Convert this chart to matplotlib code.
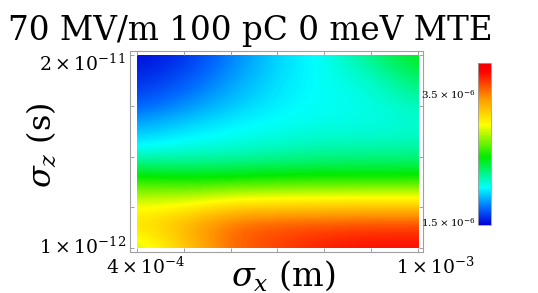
import numpy as np
import matplotlib
matplotlib.use("Agg")
import matplotlib.pyplot as plt
from matplotlib.colors import LinearSegmentedColormap
from matplotlib.patches import Rectangle
from matplotlib.transforms import ScaledTranslation

plt.rcParams['font.family'] = 'DejaVu Serif'
plt.rcParams['mathtext.fontset'] = 'dejavuserif'

# grid
sigma_x = np.array([4, 5, 6, 7, 8, 9, 10]) * 1e-4          # m
sigma_z = np.array([1, 3.375, 5.75, 8.125, 10.5, 12.875, 15.25, 17.625, 20]) * 1e-12  # s
# emittance (1e-6), rows = sigma_z ascending, cols = sigma_x ascending
emit = np.array([
    [2.85, 3.20, 3.55, 3.65, 3.78, 3.82, 3.82],
    [3.15, 3.32, 3.58, 3.63, 3.63, 3.65, 3.65],
    [2.92, 2.92, 3.02, 3.03, 3.05, 3.06, 3.06],
    [2.50, 2.45, 2.45, 2.48, 2.48, 2.48, 2.48],
    [2.05, 2.10, 2.12, 2.15, 2.20, 2.20, 2.22],
    [1.87, 1.95, 2.02, 2.06, 2.08, 2.08, 2.10],
    [1.65, 1.77, 1.90, 2.00, 2.05, 2.07, 2.18],
    [1.55, 1.64, 1.82, 1.97, 2.05, 2.12, 2.35],
    [1.47, 1.56, 1.75, 1.95, 2.05, 2.28, 2.50],
]) * 1e-6

x_minor = np.array([5, 6, 7, 8, 9]) * 1e-4
z_minor = np.array([5, 10, 15]) * 1e-12
x_ticklabels = [r'$4\times10^{-4}$', r'$1\times10^{-3}$']
z_ticklabels = [r'$1\times10^{-12}$', r'$2\times10^{-11}$']
cbar_ticks = [1.5e-6, 3.5e-6]
cbar_ticklabels = [r'$1.5\times10^{-6}$', r'$3.5\times10^{-6}$']
vmin, vmax = 1.45e-6, 3.97e-6

cmap = LinearSegmentedColormap.from_list('rainbowish', [
    (0.00, (0.0, 0.0, 0.85)),
    (0.10, (0.0, 0.4, 1.0)),
    (0.23, (0.0, 1.0, 1.0)),
    (0.42, (0.0, 0.92, 0.0)),
    (0.62, (1.0, 1.0, 0.0)),
    (0.78, (1.0, 0.6, 0.0)),
    (0.95, (1.0, 0.0, 0.0)),
    (1.00, (0.95, 0.0, 0.0)),
])

W, H = 538, 293
fig = plt.figure(figsize=(W / 100, H / 100), dpi=100)
ax = fig.add_axes([130 / W, (H - 252) / H, 293 / W, 201 / H])

dx = sigma_x[1] - sigma_x[0]
dz = sigma_z[1] - sigma_z[0]
im = ax.imshow(emit, origin='lower', aspect='auto', cmap=cmap,
               vmin=vmin, vmax=vmax, interpolation='bicubic',
               interpolation_stage='data',
               extent=[sigma_x[0] - dx / 2, sigma_x[-1] + dx / 2,
                       sigma_z[0] - dz / 2, sigma_z[-1] + dz / 2])
clip = Rectangle((sigma_x[0], sigma_z[0]), sigma_x[-1] - sigma_x[0],
                 sigma_z[-1] - sigma_z[0], transform=ax.transData)
im.set_clip_path(clip)

px_x = 1e-4 / 47
px_z = 1e-12 / 10.16
ax.set_xlim(sigma_x[0] - 7 * px_x, sigma_x[-1] + 5 * px_x)
ax.set_ylim(sigma_z[0] - 4 * px_z, sigma_z[-1] + 4 * px_z)

for s in ax.spines.values():
    s.set_color('#a0a0a0')
    s.set_linewidth(0.8)

ax.set_xticks([sigma_x[0], sigma_x[-1]], x_ticklabels, fontsize=13.5)
ax.set_yticks([sigma_z[0], sigma_z[-1]], z_ticklabels, fontsize=13.5)
ax.set_xticks(x_minor, minor=True)
ax.set_yticks(z_minor, minor=True)
ax.tick_params(which='both', direction='in', length=3, color='#a0a0a0',
               top=True, right=True, width=0.7)
ax.tick_params(axis='x', pad=3)
ax.tick_params(axis='y', pad=3)

# shift end labels like the original
for lab, off in zip(ax.get_xticklabels(), [9, 18]):
    lab.set_transform(lab.get_transform() + ScaledTranslation(off / 100, 0, fig.dpi_scale_trans))
for lab, off in zip(ax.get_yticklabels(), [3, -7]):
    lab.set_transform(lab.get_transform() + ScaledTranslation(0, off / 100, fig.dpi_scale_trans))

fig.text(8 / W, 1 - 40 / H, '70 MV/m 100 pC 0 meV MTE', fontsize=23.5,
         ha='left', va='baseline')
fig.text(283 / W, 1 - 286 / H, r'$\sigma_x$ (m)', fontsize=24,
         ha='center', va='baseline')
fig.text(42 / W, 1 - 145 / H, r'$\sigma_z$ (s)', fontsize=23,
         ha='center', va='center', rotation=90)

cax = fig.add_axes([478 / W, (H - 225) / H, 13 / W, 162 / H])
cb = fig.colorbar(im, cax=cax)
cb.set_ticks(cbar_ticks, labels=cbar_ticklabels)
cax.yaxis.set_ticks_position('left')
cax.tick_params(length=0, pad=2, labelsize=7.5)
cb.outline.set_edgecolor('#a0a0a0')
cb.outline.set_linewidth(0.6)

fig.savefig('out.png', dpi=100)
